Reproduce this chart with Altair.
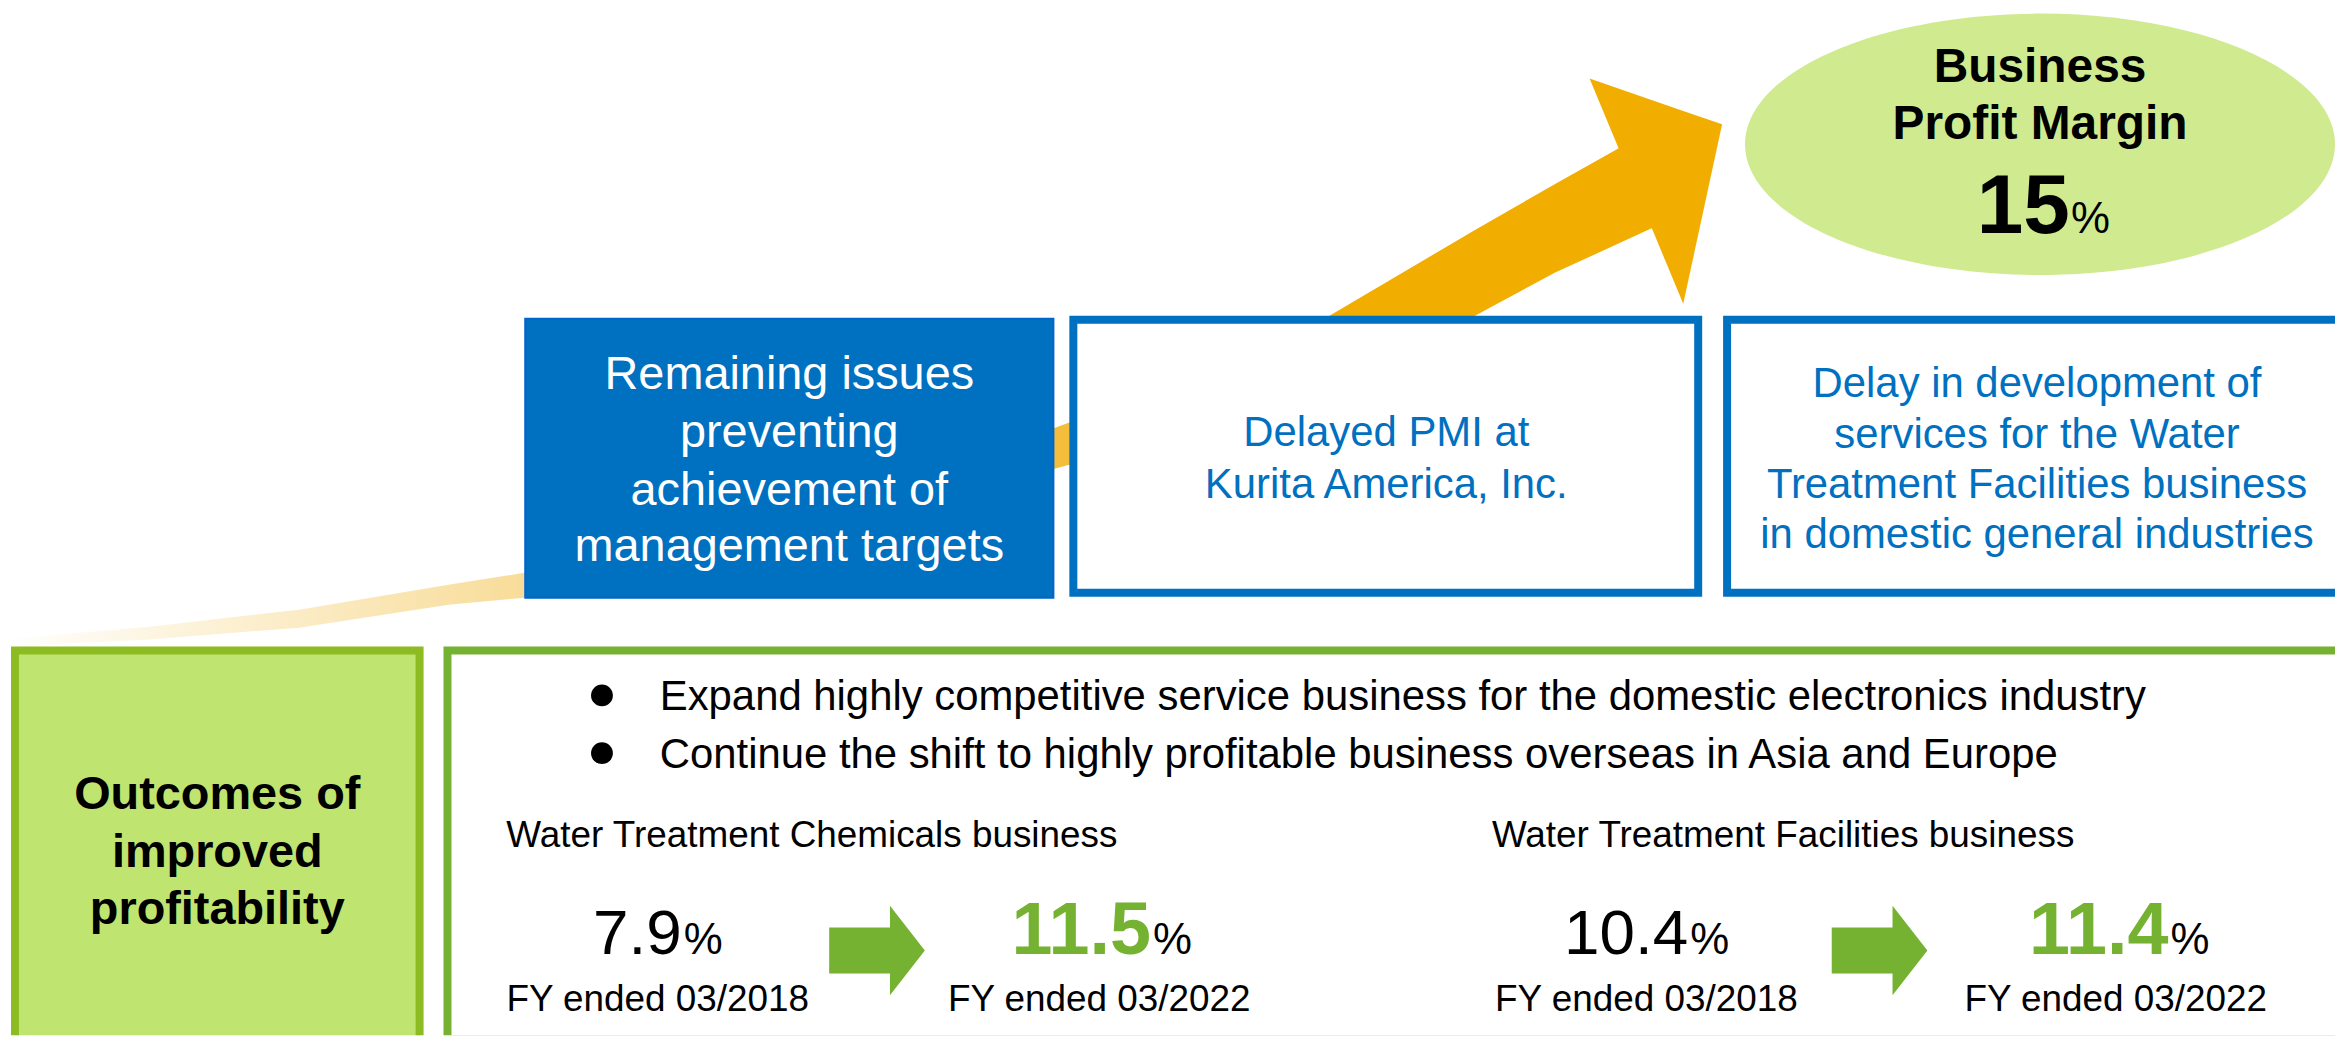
import altair as alt
import pandas as pd

# ---------------- content ----------------
target_title = ["Business", "Profit Margin"]
target_value = 15
issue_head = ["Remaining issues", "preventing", "achievement of", "management targets"]
issue_pmi = ["Delayed PMI at", "Kurita America, Inc."]
issue_services = ["Delay in development of", "services for the Water",
                  "Treatment Facilities business", "in domestic general industries"]
outcome_head = ["Outcomes of", "improved", "profitability"]
bullets = ["Expand highly competitive service business for the domestic electronics industry",
           "Continue the shift to highly profitable business overseas in Asia and Europe"]
segments = ["Water Treatment Chemicals business", "Water Treatment Facilities business"]
years = ["FY ended 03/2018", "FY ended 03/2022"]
chem_margin = [7.9, 11.5]
fac_margin = [10.4, 11.4]

# ---------------- layout (page pixel coordinates) ----------------
W, H = 2335, 1029
X0, Y0 = 8, 8
FONT = "Liberation Sans"
BLUE = "#0070C0"
GREEN = "#76B232"
ORANGE = "#F2AE00"

xs = alt.Scale(domain=[X0, X0 + W], nice=False, zero=False)
ys = alt.Scale(domain=[Y0, Y0 + H], nice=False, zero=False, reverse=True)


def X(f):
    return alt.X(f, type="quantitative", scale=xs, axis=None)


def Y(f):
    return alt.Y(f, type="quantitative", scale=ys, axis=None)


def text_layer(texts, xpos, ypos, size, color="black", weight="normal", align="center"):
    df = pd.DataFrame({"t": texts, "x": xpos, "y": ypos})
    return alt.Chart(df).mark_text(
        font=FONT, fontSize=size, fontWeight=weight, color=color,
        align=align, baseline="alphabetic", clip=True
    ).encode(x=X("x"), y=Y("y"), text="t:N")


def rect_layer(x1, x2, y1, y2, fill, stroke, sw):
    df = pd.DataFrame({"x": x1, "x2": x2, "y": y1, "y2": y2})
    return alt.Chart(df).mark_rect(
        fill=fill, stroke=stroke, strokeWidth=sw, clip=True
    ).encode(x=X("x"), x2="x2", y=Y("y"), y2="y2")


layers = []

# curved orange band (fades out toward the left)
band = pd.DataFrame({
    "x":   [0, 150, 300, 450, 526, 800, 1060, 1200, 1334, 1480, 1560, 1660],
    "top": [640, 627, 610, 585, 573, 510, 427, 375, 315, 229, 183, 127],
    "bot": [647, 640, 628, 605, 598, 545, 468, 430, 380, 315, 272, 226],
})
grad = alt.LinearGradient(
    gradient="linear", x1=0, x2=1, y1=0, y2=0,
    stops=[alt.GradientStop(color="#FFFFFF", offset=0),
           alt.GradientStop(color="#FCEFCF", offset=0.15),
           alt.GradientStop(color="#F8DC98", offset=0.32),
           alt.GradientStop(color="#F4BE3C", offset=0.64),
           alt.GradientStop(color=ORANGE, offset=0.8),
           alt.GradientStop(color=ORANGE, offset=1)])
layers.append(alt.Chart(band).mark_area(color=grad, orient="vertical", clip=True)
              .encode(x=X("x"), y=Y("top"), y2="bot"))

# arrow head
head = pd.DataFrame({"x": [1595, 1689, 1728], "top": [77, 109.5, 123], "bot": [77, 303, 123]})
layers.append(alt.Chart(head).mark_area(color=ORANGE, orient="vertical", clip=True)
              .encode(x=X("x"), y=Y("top"), y2="bot"))

# target ellipse
ell = pd.DataFrame({"x": [2047], "y": [143]})
layers.append(alt.Chart(ell).mark_point(
    shape="M-1,0A1,0.443,0,1,1,1,0A1,0.443,0,1,1,-1,0Z", size=592 ** 2,
    filled=True, color="#CFEA8F", opacity=1, strokeWidth=0, clip=True
).encode(x=X("x"), y=Y("y")))

layers.append(text_layer(target_title, [2047, 2047], [80, 138], 48, weight="bold"))
layers.append(text_layer([f"{target_value}"], [2077], [232], 84, weight="bold", align="right"))
layers.append(text_layer(["%"], [2078], [232], 44, align="left"))

# issue boxes
layers.append(rect_layer([527], [1057], [318], [598], BLUE, "#0066CC", 2))
layers.append(rect_layer([1077, 1733], [1704, 2400], [319, 319], [593, 593], "#FFFFFF", BLUE, 8))
layers.append(text_layer(issue_head, [792] * 4, [389, 447, 505, 561], 47, color="#FFFFFF"))
layers.append(text_layer(issue_pmi, [1391] * 2, [446, 498], 42, color=BLUE))
layers.append(text_layer(issue_services, [2044] * 4, [397, 448, 498, 548], 42, color=BLUE))

# outcome panels
layers.append(rect_layer([15], [421], [651], [1060], "#C0E470", "#8CBB22", 8))
layers.append(rect_layer([449], [2400], [651], [1041], "#FFFFFF", GREEN, 8))
layers.append(text_layer(outcome_head, [218] * 3, [810, 868, 925], 47, weight="bold"))

dots = pd.DataFrame({"x": [604, 604], "y": [696, 754]})
layers.append(alt.Chart(dots).mark_circle(size=480, color="black", opacity=1)
              .encode(x=X("x"), y=Y("y")))
layers.append(text_layer(bullets, [662, 662], [711, 769], 42, align="left"))
layers.append(text_layer(segments, [508, 1497], [848, 848], 37, align="left"))

# numbers (value + smaller % sign)
num_text = [f"{chem_margin[0]:.1f}", f"{fac_margin[0]:.1f}"]
layers.append(text_layer(num_text, [684, 1694], [955, 955], 64, align="right"))
new_text = [f"{chem_margin[1]:.1f}", f"{fac_margin[1]:.1f}"]
layers.append(text_layer(new_text, [1155, 2176], [955, 955], 74, color=GREEN,
                         weight="bold", align="right"))
layers.append(text_layer(["%"] * 4, [686, 1157, 1696, 2178], [955] * 4, 44, align="left"))
layers.append(text_layer(years * 2, [660, 1103, 1652, 2123], [1013] * 4, 37))

# green block arrows
arr = pd.DataFrame({
    "id":  [0, 0, 0, 0, 1, 1, 1, 1],
    "x":   [832, 893, 893.01, 928, 1838, 1899, 1899.01, 1934],
    "top": [929, 929, 907, 952, 929, 929, 907, 952],
    "bot": [975, 975, 997, 952, 975, 975, 997, 952],
})
layers.append(alt.Chart(arr).mark_area(color=GREEN, orient="vertical", clip=True)
              .encode(x=X("x"), y=Y("top"), y2="bot", detail="id:N"))

chart = alt.layer(*layers).properties(
    width=W, height=H, padding=0,
    autosize=alt.AutoSizeParams(type="none"),
).configure_view(stroke=None)

chart.save("out.html", embed_options={"renderer": "svg", "actions": False})
